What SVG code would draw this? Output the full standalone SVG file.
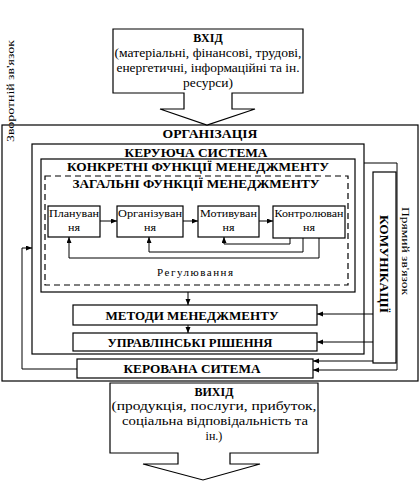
<svg xmlns="http://www.w3.org/2000/svg" width="419" height="481" viewBox="0 0 419 481" font-family="'Liberation Serif', 'DejaVu Serif', serif">
<style>
.box{fill:#fff;stroke:#000;stroke-width:1.2}
.nf{fill:none;stroke:#000;stroke-width:1.2}
.dash{fill:none;stroke:#000;stroke-width:1.2;stroke-dasharray:6 4}
.ln{fill:none;stroke:#000;stroke-width:1;marker-end:url(#ah)}
text{font-family:'Liberation Serif','DejaVu Serif',serif;fill:#000}
.t{font-size:12px;text-anchor:middle}
.b{font-size:12px;font-weight:bold;text-anchor:middle}
.f{font-size:11px;text-anchor:middle}
.s{font-size:11px}
</style>
<defs>
<marker id="ah" markerUnits="userSpaceOnUse" markerWidth="7" markerHeight="6" refX="6" refY="2.5" orient="auto">
<path d="M0,0 L6,2.5 L0,5 z" fill="#000"/>
</marker>
</defs>
<rect width="419" height="481" fill="#fff"/>

<g id="org">
<rect class="nf" x="2" y="125" width="416" height="256"/>
<text class="b" x="210" y="138" font-size="13" textLength="95" lengthAdjust="spacingAndGlyphs">ОРГАНІЗАЦІЯ</text>
</g>

<g id="vhid">
<path class="box" d="M113,29 H303 V93 H232 V109 H255 L207,125 L160,109 H184 V93 H113 Z"/>
<text class="b" x="208" y="42" font-size="13">ВХІД</text>
<text class="t" x="208" y="57" textLength="187" lengthAdjust="spacingAndGlyphs">(матеріальні, фінансові, трудові,</text>
<text class="t" x="208" y="72" textLength="183" lengthAdjust="spacingAndGlyphs">енергетичні, інформаційні та ін.</text>
<text class="t" x="208" y="87" textLength="50" lengthAdjust="spacingAndGlyphs">ресурси)</text>
</g>

<g id="keruycha">
<rect class="nf" x="32" y="144" width="332" height="210"/>
<text class="b" x="196" y="156.5" textLength="143" lengthAdjust="spacingAndGlyphs">КЕРУЮЧА СИСТЕМА</text>
</g>

<g id="konkretni">
<rect class="nf" x="41" y="159" width="314" height="133"/>
<text class="b" x="198" y="171" textLength="262" lengthAdjust="spacingAndGlyphs">КОНКРЕТНІ ФУНКЦІЇ МЕНЕДЖМЕНТУ</text>
</g>

<g id="zagalni">
<rect class="dash" x="45" y="176" width="303" height="109"/>
<text class="b" x="196" y="188" textLength="247" lengthAdjust="spacingAndGlyphs">ЗАГАЛЬНІ ФУНКЦІЇ МЕНЕДЖМЕНТУ</text>
<text class="s" x="157" y="276" textLength="76" lengthAdjust="spacing">Регулювання</text>
</g>

<g id="planuvannya">
<rect class="box" x="48" y="206" width="52" height="31"/>
<text class="s" x="49" y="217" textLength="50" lengthAdjust="spacingAndGlyphs">Плануван</text>
<text class="s" x="68" y="231" textLength="12" lengthAdjust="spacingAndGlyphs">ня</text>
</g>
<g id="orhanizuvannya">
<rect class="box" x="117" y="206" width="66" height="31"/>
<text class="s" x="118" y="217" textLength="64" lengthAdjust="spacingAndGlyphs">Організуван</text>
<text class="s" x="144" y="231" textLength="12" lengthAdjust="spacingAndGlyphs">ня</text>
</g>
<g id="motyvuvannya">
<rect class="box" x="198" y="206" width="61" height="31"/>
<text class="s" x="200" y="217" textLength="57" lengthAdjust="spacingAndGlyphs">Мотивуван</text>
<text class="s" x="222.5" y="231" textLength="12" lengthAdjust="spacingAndGlyphs">ня</text>
</g>
<g id="kontrolyuvannya">
<rect class="box" x="273" y="206" width="72" height="32"/>
<text class="s" x="274.5" y="217" textLength="69" lengthAdjust="spacingAndGlyphs">Контролюван</text>
<text class="s" x="303" y="231" textLength="12" lengthAdjust="spacingAndGlyphs">ня</text>
</g>

<g id="metody">
<rect class="box" x="73" y="305" width="244" height="20"/>
<text class="b" x="192" y="319.5" textLength="173" lengthAdjust="spacingAndGlyphs">МЕТОДИ МЕНЕДЖМЕНТУ</text>
</g>
<g id="rishennya">
<rect class="box" x="73" y="333" width="244" height="18"/>
<text class="b" x="190" y="346.5" textLength="165" lengthAdjust="spacingAndGlyphs">УПРАВЛІНСЬКІ РІШЕННЯ</text>
</g>
<g id="kerovana">
<rect class="box" x="77" y="359" width="236" height="19"/>
<text class="b" x="192" y="373" textLength="137" lengthAdjust="spacingAndGlyphs">КЕРОВАНА СИТЕМА</text>
</g>

<g id="komunikatsii">
<rect class="box" x="373" y="172" width="23" height="191"/>
<text class="b" transform="translate(380,264) rotate(90)" x="0" y="0" textLength="98" lengthAdjust="spacingAndGlyphs">КОМУНІКАЦІЇ</text>
</g>

<g id="vyhid">
<path class="box" d="M110,383 H318 V453 H230 V464 H260 L203,480 L143,464 H178 V453 H110 Z"/>
<text class="b" x="214" y="396">ВИХІД</text>
<text class="t" x="214" y="410" textLength="205" lengthAdjust="spacingAndGlyphs">(продукція, послуги, прибуток,</text>
<text class="t" x="215" y="425" textLength="186" lengthAdjust="spacingAndGlyphs">соціальна відповідальність та</text>
<text class="t" x="214" y="440">ін.)</text>
</g>

<g id="labels">
<text font-size="11" text-anchor="middle" transform="translate(14,91) rotate(-90)" textLength="102" lengthAdjust="spacingAndGlyphs">Зворотній зв'язок</text>
<text font-size="11" text-anchor="middle" transform="translate(402,251) rotate(90)" textLength="88" lengthAdjust="spacingAndGlyphs">Прямий зв'язок</text>
</g>

<g id="connectors">
<line class="ln" x1="100" y1="221" x2="117" y2="221"/>
<line class="ln" x1="183" y1="221" x2="198" y2="221"/>
<line class="ln" x1="259" y1="221" x2="273" y2="221"/>
<polyline class="ln" points="290,238 290,244 224,244 224,237"/>
<polyline class="ln" points="303,238 303,252 149,252 149,237"/>
<polyline class="ln" points="319,238 319,258 69,258 69,237"/>
<line class="ln" x1="188" y1="292" x2="188" y2="305"/>
<line class="ln" x1="188" y1="325" x2="188" y2="333"/>
<line class="ln" x1="373" y1="314" x2="317" y2="314"/>
<line class="ln" x1="373" y1="342" x2="317" y2="342"/>
<line class="ln" x1="373" y1="361" x2="313" y2="361"/>
<polyline class="ln" points="364,163 397,163 397,370 313,370"/>
<polyline class="ln" points="77,369 22,369 22,248 32,248"/>
</g>
</svg>
